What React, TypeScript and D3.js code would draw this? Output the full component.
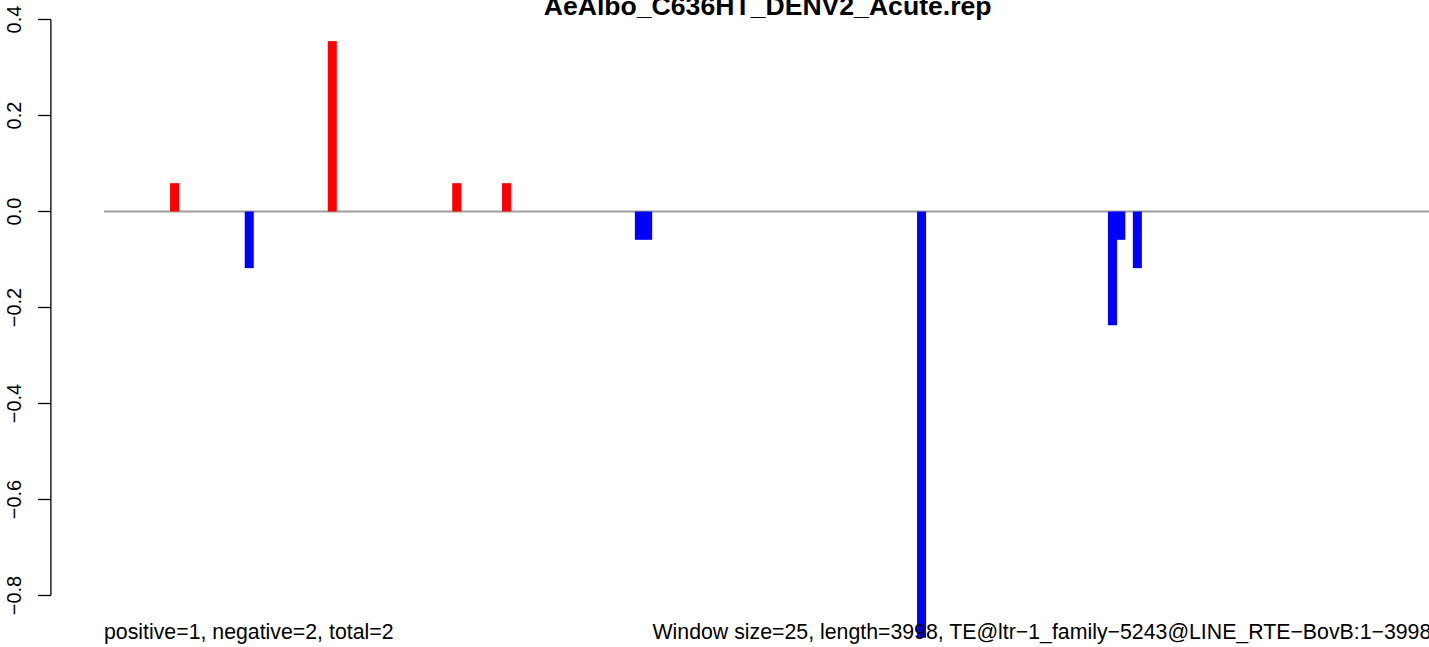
import React from "react";
import * as d3 from "d3";

const title = "AeAlbo_C636HT_DENV2_Acute.rep";
const seqLength = 3998;
const windowSize = 25;
// window start positions (bp) and scores
const windowStarts = [200, 425, 675, 1050, 1200, 1600, 1625, 2450, 3025, 3050, 3100];
const windowScores = [0.059, -0.118, 0.355, 0.059, 0.059, -0.059, -0.059, -0.888, -0.237, -0.059, -0.118];
const yTicks = [-0.8, -0.6, -0.4, -0.2, 0.0, 0.2, 0.4];
const leftNote = "positive=1, negative=2, total=2";
const rightNote = "Window size=25, length=3998, TE@ltr\u22121_family\u22125243@LINE_RTE\u2212BovB:1\u22123998";

const W = 1429;
const H = 647;

export default function App() {
  const x = d3.scaleLinear().domain([0, seqLength]).range([104, 104 + seqLength * 0.332]);
  const y = d3.scaleLinear().domain([-0.8, 0.4]).range([595.5, 19.5]);
  const axisX = x(-160);
  const plotRight = x(seqLength + 160);
  const font = "'Liberation Sans', Arial, Helvetica, sans-serif";
  const fmt = (v: number) => (v < 0 ? "\u2212" : "") + Math.abs(v).toFixed(1);
  return (
    <svg width={W} height={H} style={{ position: "absolute", left: 0, top: 0, background: "#fff" }}>
      <line x1={x(0)} x2={x(seqLength)} y1={y(0)} y2={y(0)} stroke="#9e9e9e" strokeWidth={2} />
      {windowStarts.map((s, i) => {
        const v = windowScores[i];
        const cx = x(s + windowSize / 2);
        const y0 = y(0);
        const y1 = y(v);
        return (
          <rect
            key={i}
            x={cx - 4.5}
            width={9}
            y={Math.min(y0, y1)}
            height={Math.abs(y1 - y0)}
            fill={v >= 0 ? "#ff0000" : "#0000ff"}
          />
        );
      })}
      <line x1={axisX} x2={axisX} y1={y(0.4)} y2={y(-0.8)} stroke="#000" strokeWidth={1.3} />
      {yTicks.map((t) => (
        <g key={t}>
          <line x1={axisX - 13} x2={axisX} y1={y(t)} y2={y(t)} stroke="#000" strokeWidth={1.3} />
          <text
            transform={`translate(20.7,${y(t)}) rotate(-90)`}
            textAnchor="middle"
            fontFamily={font}
            fontSize={20}
            fill="#000"
          >
            {fmt(t)}
          </text>
        </g>
      ))}
      <text x={(axisX + plotRight) / 2} y={14.5} textAnchor="middle" fontFamily={font} fontSize={26.6} fontWeight="bold" fill="#000">
        {title}
      </text>
      <text x={x(0)} y={639} textAnchor="start" fontFamily={font} fontSize={21.3} fill="#000">
        {leftNote}
      </text>
      <text x={x(seqLength)} y={639} textAnchor="end" fontFamily={font} fontSize={21.3} fill="#000">
        {rightNote}
      </text>
    </svg>
  );
}
